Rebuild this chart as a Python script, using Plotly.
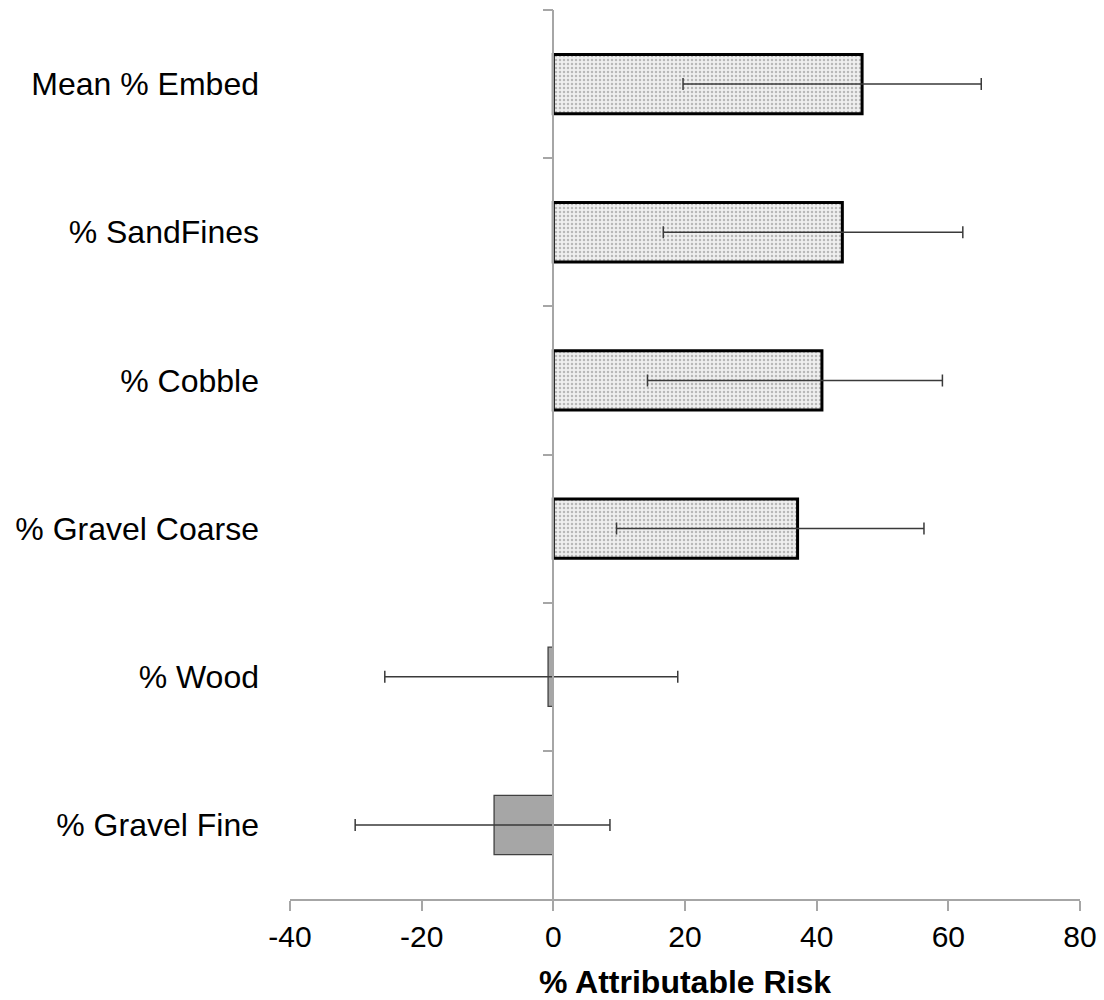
import plotly.graph_objects as go

# Attributable risk by substrate variable (top to bottom)
categories = ["Mean % Embed", "% SandFines", "% Cobble", "% Gravel Coarse", "% Wood", "% Gravel Fine"]
risk = [46.9, 43.9, 40.8, 37.1, -0.8, -9.0]
ci_low = [19.7, 16.7, 14.3, 9.6, -25.6, -30.1]
ci_high = [65.0, 62.2, 59.1, 56.3, 18.9, 8.6]

x_ticks = [-40, -20, 0, 20, 40, 60, 80]
x_tick_labels = ["-40", "-20", "0", "20", "40", "60", "80"]

err_plus = [h - v for h, v in zip(ci_high, risk)]
err_minus = [v - l for l, v in zip(ci_low, risk)]

FONT = "Liberation Sans, Arial, sans-serif"
AXIS_GRAY = "#a6a6a6"


def pick(values, keep):
    return [v if k else None for v, k in zip(values, keep)]


positive = [v > 0 for v in risk]
negative = [not p for p in positive]

err_style = dict(type="data", color="#3a3a3a", thickness=1.5, width=6)

fig = go.Figure()

# positive effects: dotted light fill, heavy outline
fig.add_trace(go.Bar(
    y=categories, x=pick(risk, positive), orientation="h",
    marker=dict(
        color="#ececec",
        line=dict(color="#000000", width=3),
        pattern=dict(shape=".", fgcolor="#b8b8b8", bgcolor="#efefef",
                     size=4, solidity=0.3, fillmode="replace"),
    ),
    error_x=dict(array=pick(err_plus, positive), arrayminus=pick(err_minus, positive), **err_style),
    hoverinfo="skip", showlegend=False,
))

# negative effects: solid gray fill, thin outline
fig.add_trace(go.Bar(
    y=categories, x=pick(risk, negative), orientation="h",
    marker=dict(color="#a6a6a6", line=dict(color="#404040", width=1.3)),
    error_x=dict(array=pick(err_plus, negative), arrayminus=pick(err_minus, negative), **err_style),
    hoverinfo="skip", showlegend=False,
))

# carrier for the category axis drawn at x = 0
fig.add_trace(go.Scatter(
    y=categories, x=[0] * len(categories), yaxis="y2", mode="markers",
    marker=dict(opacity=0), hoverinfo="skip", showlegend=False,
))

n = len(categories)
x_min, x_max = x_ticks[0], x_ticks[-1]

fig.update_layout(
    width=1104, height=1000,
    margin=dict(l=290, r=24, t=10, b=101),
    paper_bgcolor="white", plot_bgcolor="white",
    barmode="overlay", bargap=0.6,
    font=dict(family=FONT, color="#000000"),
    xaxis=dict(
        range=[x_min, x_max], tickvals=x_ticks, ticktext=x_tick_labels,
        automargin=False,
        showgrid=False, zeroline=False,
        showline=True, linecolor=AXIS_GRAY, linewidth=1.5,
        ticks="outside", ticklen=10, tickwidth=1.5, tickcolor=AXIS_GRAY,
        tickfont=dict(size=30, family=FONT, color="#000000"),
        title=dict(text="<b>% Attributable Risk</b>", standoff=22,
                   font=dict(size=32, family=FONT, color="#000000")),
    ),
    yaxis=dict(
        type="category", categoryarray=categories,
        range=[n - 0.5, -0.5], automargin=False,
        showgrid=False, zeroline=False, showline=False,
        ticks="", ticklabelstandoff=30,
        tickfont=dict(size=32, family=FONT, color="#000000"),
    ),
    yaxis2=dict(
        type="category", categoryarray=categories,
        range=[n - 0.5, -0.5], automargin=False,
        overlaying="y", anchor="free", side="left",
        position=(0 - x_min) / (x_max - x_min),
        showgrid=False, zeroline=False,
        showline=True, linecolor=AXIS_GRAY, linewidth=1.5,
        ticks="outside", tickson="boundaries", ticklen=10, tickwidth=1.5, tickcolor=AXIS_GRAY,
        showticklabels=False,
    ),
)

fig.write_html("out.html")
